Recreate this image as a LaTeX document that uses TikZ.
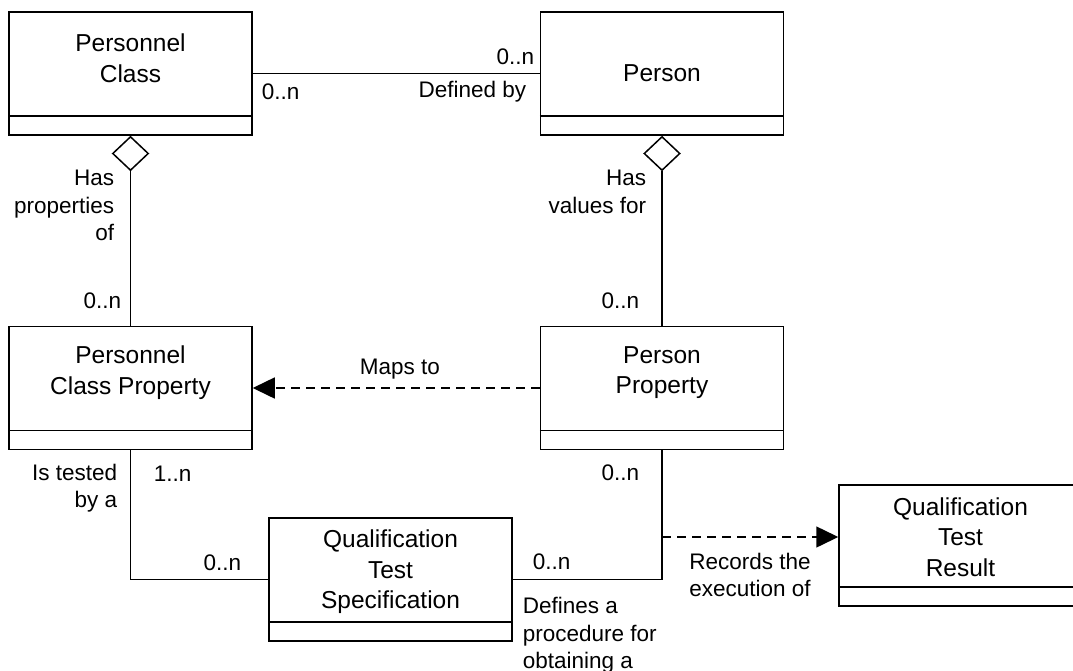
\documentclass[tikz,border=0pt]{standalone}
\usepackage{fontspec}
\setmainfont{Liberation Sans}
\usetikzlibrary{arrows.meta,shapes.geometric}
\begin{document}
\begin{tikzpicture}[x=1pt,y=-1pt,line width=1.5pt,
  classbox/.style={draw,rectangle,inner sep=0pt,minimum width=243pt,minimum height=123pt},
  classtext/.style={inner sep=0pt,align=center,font=\fontsize{24.5}{30.5}\selectfont},
  lbl/.style={inner sep=0pt,font=\fontsize{22.5}{27.5}\selectfont},
  diam/.style={draw,diamond,fill=white,inner sep=0pt,minimum width=36pt,minimum height=34pt,anchor=north},
  dep/.style={dash pattern=on 9pt off 6pt,-{Triangle[length=22pt,width=21pt]}}]
\useasboundingbox (0,0) rectangle (1073,670);
\clip (0,0) rectangle (1073,670);
% classes
\node[classbox] (pc) at (130.5,73.5) {};
\node[classbox] (p) at (662,73.5) {};
\node[classbox] (pcp) at (130.5,388) {};
\node[classbox] (pp) at (662,388) {};
\node[classbox] (qts) at (390.5,579.5) {};
\node[classbox,minimum height=121pt] (qtr) at (960.5,545.5) {};
\foreach \n in {pc,p,pcp,pp,qts,qtr}
  \draw ([yshift=20pt]\n.south west) -- ([yshift=20pt]\n.south east);
\node[classtext] (pct) at (130.5,58) {Personnel\\Class};
\node[classtext] (pt) at (662,73) {Person};
\node[classtext] (pcpt) at (130.5,372.5) {Personnel\\Class Property};
\node[classtext] (ppt) at (662,372.5) {Person\\Property};
\node[classtext] (qtst) at (390.5,572) {Qualification\\Test\\Specification};
\node[classtext] (qtrt) at (960.5,537) {Qualification\\Test\\Result};
% connectors
\draw (pc.east) -- (p.west);
\node[diam] (d1) at (pc.south) {};
\node[diam] (d2) at (p.south) {};
\draw (d1.south) -- (pcp.north);
\draw (d2.south) -- (pp.north);
\draw[dep] (pp.west) -- (pcp.east);
\draw (pcp.south) |- (qts.west);
\draw (qts.east) -| (pp.south);
\coordinate (rec) at (662,537);
\draw[dep] (rec) -- (rec -| qtr.west);
% labels
\node[lbl,anchor=east] (l1) at (535,57) {0..n};
\node[lbl,anchor=west] (l2) at (261,92) {0..n};
\node[lbl,anchor=east] (l3) at (527,92) {Defined by};
\node[lbl,anchor=east,align=right] (l4) at (115,205.5) {Has\\properties\\of};
\node[lbl,anchor=east,align=right] (l5) at (647,192) {Has\\values for};
\node[lbl,anchor=east] (l6) at (122,301) {0..n};
\node[lbl,anchor=east] (l7) at (640,301) {0..n};
\node[lbl] (l8) at (400,369) {Maps to};
\node[lbl,anchor=east,align=right] (l9) at (118,488) {Is tested\\by a};
\node[lbl,anchor=west] (l10) at (153,474) {1..n};
\node[lbl,anchor=east] (l11) at (242,563) {0..n};
\node[lbl,anchor=west] (l12) at (532,562) {0..n};
\node[lbl,anchor=east] (l13) at (640,473) {0..n};
\node[lbl,anchor=west,align=left] (l14) at (522,635.5) {Defines a\\procedure for\\obtaining a};
\node[lbl,align=center] (l15) at (750,575) {Records the\\execution of};
\end{tikzpicture}
\end{document}
